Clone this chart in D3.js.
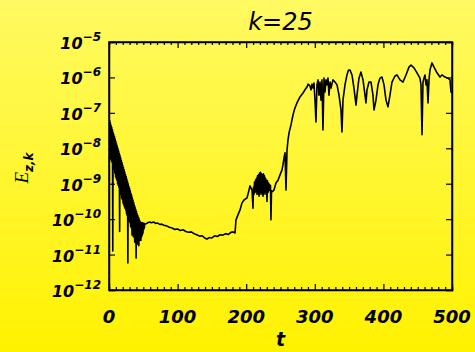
<!DOCTYPE html>
<html>
<head>
<meta charset="utf-8">
<script src="https://cdn.jsdelivr.net/npm/d3@7/dist/d3.min.js"></script>
<style>
  html, body { margin: 0; padding: 0; }
  svg { display: block; }
</style>
</head>
<body>
<svg id="chart" width="475" height="352"></svg>
<script>
// E_{z,k} for k=25, values stored as log10(E)
// decay phase: fast oscillation between upper and lower envelope
const decayT = [0, 0.5, 1, 1.5, 2, 2.5, 3, 3.5, 4, 4.5, 5, 5.5, 6, 6.5, 7, 7.5, 8, 8.5, 9, 9.5, 10, 10.5, 11, 11.5, 12, 12.5,
  13, 13.5, 14, 14.5, 15, 15.5, 16, 16.5, 17, 17.5, 18, 18.5, 19, 19.5, 20, 20.5, 21, 21.5, 22, 22.5, 23, 23.5, 24, 24.5, 25, 25.5,
  26, 26.5, 27, 27.5, 28, 28.5, 29, 29.5, 30, 30.5, 31, 31.5, 32, 32.5, 33, 33.5, 34, 34.5, 35, 35.5, 36, 36.5, 37, 37.5, 38, 38.5,
  39, 39.5, 40, 40.5, 41, 41.5, 42, 42.5, 43, 43.5, 44, 44.5, 45, 45.5, 46, 46.5, 47, 47.5, 48, 48.5, 49, 49.5, 50, 50.5, 51, 51.5, 52];
const decayLog = [-7.15, -7.95, -7.22, -8.1, -7.28, -8.3, -7.35, -8.35, -7.41, -8.4, -7.48, -10.9, -7.55, -8.55, -7.61, -8.6, -7.67, -8.7,
  -7.74, -8.8, -7.8, -8.85, -7.87, -8.9, -7.94, -9.0, -8.0, -9.05, -8.07, -9.1, -8.14, -10.35, -8.2, -9.25, -8.27, -9.3, -8.34, -9.4,
  -8.4, -9.45, -8.47, -9.55, -8.54, -9.6, -8.6, -9.65, -8.67, -9.7, -8.74, -9.75, -8.8, -9.85, -8.87, -9.9, -8.93, -11.24, -9.0, -10.0,
  -9.07, -10.05, -9.13, -10.1, -9.2, -10.2, -9.27, -10.25, -9.33, -10.45, -9.4, -10.3, -9.46, -10.5, -9.53, -10.4, -9.6, -10.65, -9.66, -10.5,
  -9.72, -11.1, -9.78, -10.6, -9.85, -10.7, -9.9, -10.55, -9.95, -10.75, -10.0, -10.6, -10.05, -10.55, -10.08, -10.6, -10.1, -10.5,
  -10.1, -10.45, -10.1, -10.4, -10.12, -10.3, -10.12, -10.25, -10.13];

// quasi-steady plateau
const plateauT = [53, 56, 59, 62, 65, 68, 71, 74, 77, 80, 84, 88, 92, 96, 100, 104, 108, 112, 116, 120, 124, 128, 132, 136, 140,
  143, 146, 150, 154, 158, 162, 166, 170, 174, 178, 181];
const plateauLog = [-10.14, -10.11, -10.08, -10.1, -10.08, -10.12, -10.11, -10.15, -10.14, -10.17, -10.19, -10.23, -10.25, -10.29, -10.28, -10.32, -10.3, -10.35, -10.37, -10.36, -10.41, -10.44, -10.48, -10.47, -10.54,
  -10.56, -10.52, -10.53, -10.47, -10.49, -10.44, -10.45, -10.41, -10.43, -10.37, -10.36];

// growth and saturation
const growthT = [183.7, 185.1, 188.0, 191.0, 193.9, 196.8, 201.2, 204.1, 205.5, 208.5,
  209.9, 210.6, 211.4, 212.1, 212.9, 213.6, 214.3, 215.0, 215.7, 216.5, 217.2, 218.0, 218.7, 219.4, 220.1, 220.9, 221.6, 222.3,
  223.0, 223.8, 224.5, 225.2, 225.9, 226.7, 227.4, 228.1, 228.9, 229.6, 230.3, 231.0, 231.8, 232.5, 233.2, 234.0, 234.7, 235.4,
  236.1, 236.9, 237.6, 240.5, 243.4, 246.4, 249.3, 252.2, 253.6, 255.1, 256.6,
  258.0, 259.5, 260.9, 262.4, 265.3, 268.2, 271.1, 274.0, 278.4, 282.8, 285.7, 288.6, 290.1, 293.0, 294.5, 295.9, 297.4, 298.8, 300.3,
  301.7, 303.2, 304.7, 306.1, 307.6, 309.0, 310.5, 311.9, 313.4, 314.9, 316.3, 317.8, 319.2, 320.7, 322.2, 323.6, 326.5, 329.4, 332.4,
  335.3, 338.2, 339.6, 341.1, 344.0, 346.9, 349.0, 351.3, 354.2, 357.1, 360.1, 361.5, 364.4, 367.3, 370.3, 373.2, 374.6, 376.1, 379.0,
  381.9, 384.8, 386.3, 389.2, 392.1, 395.0, 398.0, 400.9, 403.8, 406.7, 409.6, 412.5, 416.9, 419.8, 424.2, 428.6, 432.9, 437.3, 440.2,
  444.6, 449.0, 453.3, 454.8, 456.3, 457.7, 459.2, 460.6, 462.1, 463.5, 465.0, 466.5, 467.9, 470.8, 473.8, 478.1, 482.5, 485.4, 489.8,
  494.2, 497.1, 498.5, 500];
const growthLog = [-10.39, -10.02, -9.88, -9.74, -9.54, -9.46, -9.4, -9.18, -9.06, -9.18,
  -9.69, -9.1, -9.3, -8.95, -9.25, -8.9, -9.2, -8.85, -9.3, -8.78, -9.28, -8.75, -9.35, -8.7, -9.3, -8.68, -9.25, -8.72,
  -9.3, -8.75, -9.35, -8.72, -9.3, -8.78, -9.25, -8.85, -9.3, -8.9, -9.5, -8.92, -9.25, -8.98, -9.2, -9.02, -9.15, -9.05,
  -10.02, -9.2, -9.23, -9.18, -8.98, -8.9, -8.75, -8.61, -8.47, -8.27, -8.13,
  -9.18, -8.05, -7.77, -7.57, -7.34, -7.06, -6.86, -6.72, -6.55, -6.44, -6.35, -6.27, -6.19, -6.24, -6.35, -6.19, -6.3, -6.16, -6.64,
  -7.26, -6.21, -6.07, -6.5, -6.13, -6.64, -6.07, -7.48, -6.02, -6.41, -6.07, -6.21, -6.02, -6.5, -6.13, -6.3, -6.07, -6.13, -6.21,
  -6.5, -6.92, -7.54, -6.64, -6.21, -5.93, -5.8, -5.79, -5.93, -6.3, -6.78, -6.5, -6.02, -5.85, -6.07, -6.5, -6.72, -6.35, -6.13,
  -6.13, -6.5, -6.92, -6.64, -6.21, -6.02, -5.99, -6.21, -6.64, -6.83, -6.5, -6.13, -5.96, -5.93, -6.07, -6.13, -5.93, -5.71, -5.65,
  -5.73, -5.87, -6.02, -6.21, -7.62, -6.13, -6.02, -5.93, -6.21, -6.07, -6.72, -6.07, -5.79, -5.59, -5.71, -5.87, -5.99, -5.93, -5.99,
  -6.02, -6.07, -6.41, -6.44];

const xTicks = [0, 100, 200, 300, 400, 500];
const yDecades = [-12, -11, -10, -9, -8, -7, -6, -5];

const tAll = decayT.concat(plateauT, growthT);
const logAll = decayLog.concat(plateauLog, growthLog);
const data = tAll.map((t, i) => ({ t: t, E: Math.pow(10, logAll[i]) }));

const svg = d3.select("#chart");
const margin = { top: 42, right: 23, bottom: 62, left: 109 };
const width = 475 - margin.left - margin.right;
const height = 352 - margin.top - margin.bottom;

// yellow background gradient
const defs = svg.append("defs");
const grad = defs.append("linearGradient")
  .attr("id", "bg").attr("x1", 0).attr("y1", 0).attr("x2", 0).attr("y2", 1);
grad.append("stop").attr("offset", "0%").attr("stop-color", "#fffa62");
grad.append("stop").attr("offset", "100%").attr("stop-color", "#fff200");
svg.append("rect").attr("width", 475).attr("height", 352).attr("fill", "url(#bg)");

defs.append("clipPath").attr("id", "plotclip")
  .append("rect").attr("width", width).attr("height", height);

const g = svg.append("g").attr("transform", "translate(" + margin.left + "," + margin.top + ")");

const xScale = d3.scaleLinear().domain([0, 500]).range([0, width]);
const yScale = d3.scaleLog().domain([1e-12, 1e-5]).range([height, 0]);

// the curve
const line = d3.line()
  .x(d => xScale(d.t))
  .y(d => yScale(d.E));

g.append("path")
  .datum(data)
  .attr("clip-path", "url(#plotclip)")
  .attr("fill", "none")
  .attr("stroke", "#000")
  .attr("stroke-width", 1.6)
  .attr("stroke-linejoin", "round")
  .attr("d", line);

// x axes, ticks inward (bottom and top)
const minorX = d3.range(0, 501, 10);
const xBottom = d3.axisBottom(xScale).tickValues(minorX)
  .tickSize(-3).tickFormat("");
const xTop = d3.axisTop(xScale).tickValues(minorX)
  .tickSize(-3).tickFormat("");

g.append("g").attr("transform", "translate(0," + height + ")").call(xBottom)
  .call(a => a.selectAll(".tick line").filter(d => d % 100 === 0).attr("y2", -6));
g.append("g").call(xTop)
  .call(a => a.selectAll(".tick line").filter(d => d % 100 === 0).attr("y2", 6));

// y axes, decade ticks inward
const yTickVals = yDecades.map(e => Math.pow(10, e));
g.append("g").call(d3.axisLeft(yScale).tickValues(yTickVals).tickSize(-6).tickFormat(""));
g.append("g").attr("transform", "translate(" + width + ",0)")
  .call(d3.axisRight(yScale).tickValues(yTickVals).tickSize(-6).tickFormat(""));

g.selectAll(".domain").attr("stroke", "#000").attr("stroke-width", 1.5);
g.selectAll(".tick line").attr("stroke", "#000").attr("stroke-width", 1.2);

// frame
g.append("rect").attr("width", width).attr("height", height)
  .attr("fill", "none").attr("stroke", "#000").attr("stroke-width", 1.5);

const labelFont = "'DejaVu Sans', sans-serif";

// x tick labels
g.selectAll(".xlab").data(xTicks).enter().append("text")
  .attr("x", d => xScale(d))
  .attr("y", height + 33)
  .attr("text-anchor", "middle")
  .attr("font-family", labelFont)
  .attr("font-style", "italic")
  .attr("font-weight", "bold")
  .attr("font-size", 18)
  .text(d => d);

// y tick labels 10^e
const ylab = g.selectAll(".ylab").data(yDecades).enter().append("text")
  .attr("x", -8)
  .attr("y", d => yScale(Math.pow(10, d)) + 7)
  .attr("text-anchor", "end")
  .attr("font-family", labelFont)
  .attr("font-style", "italic")
  .attr("font-weight", "bold")
  .attr("font-size", 16);
ylab.append("tspan").text("10");
ylab.append("tspan").attr("dy", -8).attr("font-size", 12).text(d => "\u2212" + Math.abs(d));

// title
svg.append("text")
  .attr("x", margin.left + width / 2)
  .attr("y", 30)
  .attr("text-anchor", "middle")
  .attr("font-family", labelFont)
  .attr("font-style", "italic")
  .attr("font-size", 24)
  .text("k=25");

// x label
svg.append("text")
  .attr("x", margin.left + width / 2)
  .attr("y", 346)
  .attr("text-anchor", "middle")
  .attr("font-family", labelFont)
  .attr("font-style", "italic")
  .attr("font-weight", "bold")
  .attr("font-size", 19)
  .text("t");

// y label E_{z,k}
const yl = svg.append("text")
  .attr("transform", "translate(28,168) rotate(-90)")
  .attr("text-anchor", "middle")
  .attr("font-family", "'Liberation Serif', serif")
  .attr("font-style", "italic")
  .attr("font-size", 19);
yl.append("tspan").text("E");
yl.append("tspan").attr("dy", 5).attr("font-size", 12)
  .attr("font-family", labelFont).attr("font-weight", "bold").text("z,k");
</script>
</body>
</html>
